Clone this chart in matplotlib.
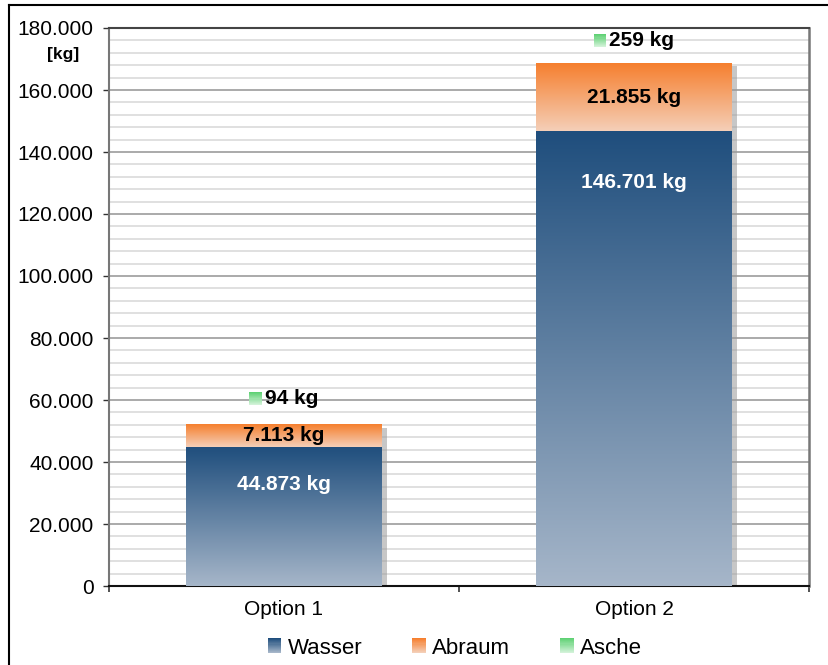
import numpy as np
import matplotlib
matplotlib.use("Agg")
import matplotlib.pyplot as plt
from matplotlib.patches import Rectangle
from matplotlib.legend_handler import HandlerBase
from matplotlib.offsetbox import AnnotationBbox, HPacker, TextArea, DrawingArea
from matplotlib import patheffects as pe
from matplotlib.ticker import FuncFormatter, MultipleLocator
from matplotlib.lines import Line2D

plt.rcParams["font.family"] = ["Liberation Sans", "DejaVu Sans"]

# ---- data ----
categories = ["Option 1", "Option 2"]
wasser = [44873, 146701]
abraum = [7113, 21855]
asche = [94, 259]
series_names = ["Wasser", "Abraum", "Asche"]

# ---- styles ----
grad_colors = {
    "Wasser": ("#1f4e7d", "#a6b6c9"),
    "Abraum": ("#f67f2e", "#f4cfb8"),
    "Asche": ("#5fd174", "#d2f2d8"),
}
bar_width = 0.56
FS = 15
wasser_label_drop_px = [38, 51]
asche_label_rise_px = [26, 22]


def hex2rgb(h):
    return np.array(matplotlib.colors.to_rgb(h))


def gradient_column(top, bottom, n=256):
    t = np.linspace(0, 1, n)[:, None]
    cols = hex2rgb(top)[None, :] * (1 - t) + hex2rgb(bottom)[None, :] * t
    return cols[:, None, :]


def fmt_de(v):
    return f"{v:,}".replace(",", ".")


fig = plt.figure(figsize=(8.29, 6.65), dpi=100)
ax = fig.add_axes([109 / 829, 1 - 586 / 665, 700 / 829, 558 / 665])

x = np.arange(len(categories))
wasser_arr = np.array(wasser)
abraum_arr = np.array(abraum)
asche_arr = np.array(asche)

# gradient-filled stacked segments
for name, vals, base in [("Wasser", wasser_arr, np.zeros(len(x))),
                         ("Abraum", abraum_arr, wasser_arr)]:
    top_c, bot_c = grad_colors[name]
    for i, v in enumerate(vals):
        ax.imshow(gradient_column(top_c, bot_c),
                  extent=[x[i] - bar_width / 2, x[i] + bar_width / 2,
                          base[i], base[i] + v],
                  aspect="auto", interpolation="bilinear", zorder=3)
# ash: a very thin top segment
ax.bar(x, asche_arr, bar_width, bottom=wasser_arr + abraum_arr,
       color=grad_colors["Asche"][1], linewidth=0, zorder=3, alpha=0.35)

totals = wasser_arr + abraum_arr + asche_arr

# drop shadow behind each stacked bar
for i in range(len(categories)):
    r = Rectangle((x[i] - bar_width / 2, 0), bar_width, totals[i],
                  facecolor="none", edgecolor="none", zorder=2,
                  path_effects=[pe.SimplePatchShadow(offset=(3.5, -2.5),
                                                     shadow_rgbFace="#9a9a9a",
                                                     alpha=0.55)])
    ax.add_patch(r)

# value labels
for i in range(len(categories)):
    ax.annotate(fmt_de(wasser[i]) + " kg", xy=(x[i], wasser[i]),
                xytext=(0, -wasser_label_drop_px[i]), textcoords="offset pixels",
                ha="center", va="center", color="white", fontsize=FS,
                fontweight="bold", zorder=5)
    ax.annotate(fmt_de(abraum[i]) + " kg", xy=(x[i], wasser[i] + abraum[i] / 2),
                ha="center", va="center", color="black", fontsize=FS,
                fontweight="bold", zorder=5)
    # ash label with gradient key
    da = DrawingArea(9, 9, 0, 0)
    n = 12
    top_c, bot_c = grad_colors["Asche"]
    for k in range(n):
        t = k / (n - 1)
        c = hex2rgb(top_c) * (1 - t) + hex2rgb(bot_c) * t
        da.add_artist(Rectangle((0, 9 - (k + 1) * 9 / n), 9, 9 / n + 0.05,
                                facecolor=c, edgecolor="none"))
    ta = TextArea(fmt_de(asche[i]) + " kg",
                  textprops=dict(fontsize=FS, fontweight="bold", color="black"))
    box = HPacker(children=[da, ta], align="center", pad=0, sep=2.5)
    ab = AnnotationBbox(box, (x[i], totals[i]),
                        xybox=(0, asche_label_rise_px[i] * 72 / 100),
                        boxcoords="offset points", frameon=False,
                        box_alignment=(0.5, 0.5), zorder=6)
    ax.add_artist(ab)

# axes / grid
ax.set_xlim(-0.5, len(categories) - 0.5)
ax.set_ylim(0, 180000)
ax.yaxis.set_major_locator(MultipleLocator(20000))
ax.yaxis.set_minor_locator(MultipleLocator(4000))
ax.yaxis.set_major_formatter(FuncFormatter(lambda v, p: fmt_de(int(v))))
ax.set_axisbelow(True)
ax.grid(which="minor", axis="y", color="#dddddd", linewidth=1.3, zorder=0)
ax.grid(which="major", axis="y", color="#9c9c9c", linewidth=1.2, zorder=0.5)
ax.tick_params(axis="y", which="major", length=4, width=1, color="#333333",
               labelsize=FS, pad=7, direction="out")
ax.tick_params(axis="y", which="minor", length=0)

ax.set_xticks([-0.5, 0.5, 1.5])
ax.set_xticklabels([])
ax.set_xticks(x, minor=True)
ax.set_xticklabels(categories, minor=True)
ax.tick_params(axis="x", which="major", length=4, width=1.2, color="#333333")
ax.tick_params(axis="x", which="minor", length=0, labelsize=FS, pad=10)

ax.spines["top"].set_color("#444444")
ax.spines["top"].set_linewidth(1.5)
ax.spines["right"].set_color("#777777")
ax.spines["right"].set_linewidth(1.8)
ax.spines["left"].set_color("#777777")
ax.spines["left"].set_linewidth(1.5)
ax.spines["bottom"].set_color("#111111")
ax.spines["bottom"].set_linewidth(1.5)

fig.text(63 / 829, 1 - 55 / 665, "[kg]", ha="center", va="center",
         fontsize=12.5, fontweight="bold")


# legend with gradient keys
class GradKey:
    def __init__(self, name):
        self.name = name


class GradHandler(HandlerBase):
    def create_artists(self, legend, orig_handle, xdescent, ydescent, width,
                       height, fontsize, trans):
        top_c, bot_c = grad_colors[orig_handle.name]
        arts = []
        n = 14
        for k in range(n):
            t = k / (n - 1)
            c = hex2rgb(top_c) * (1 - t) + hex2rgb(bot_c) * t
            y0 = -ydescent + height - (k + 1) * height / n
            arts.append(Rectangle((-xdescent, y0), width, height / n * 1.05,
                                  facecolor=c, edgecolor="none", transform=trans))
        return arts


keys = [GradKey(n) for n in series_names]
fig.legend(keys, series_names, handler_map={GradKey: GradHandler()},
           loc="center", bbox_to_anchor=(455 / 829, 1 - 648 / 665), ncol=3,
           frameon=False, fontsize=16, handlelength=0.6, handleheight=0.68,
           handletextpad=0.3, columnspacing=2.25, borderpad=0)

# outer frame
fig.add_artist(Line2D([9 / 829, 1], [1 - 5 / 665] * 2, color="black", lw=1.5,
                      transform=fig.transFigure))
fig.add_artist(Line2D([9 / 829] * 2, [0, 1 - 5 / 665], color="black", lw=1.5,
                      transform=fig.transFigure))

fig.savefig("out.png", dpi=100)
